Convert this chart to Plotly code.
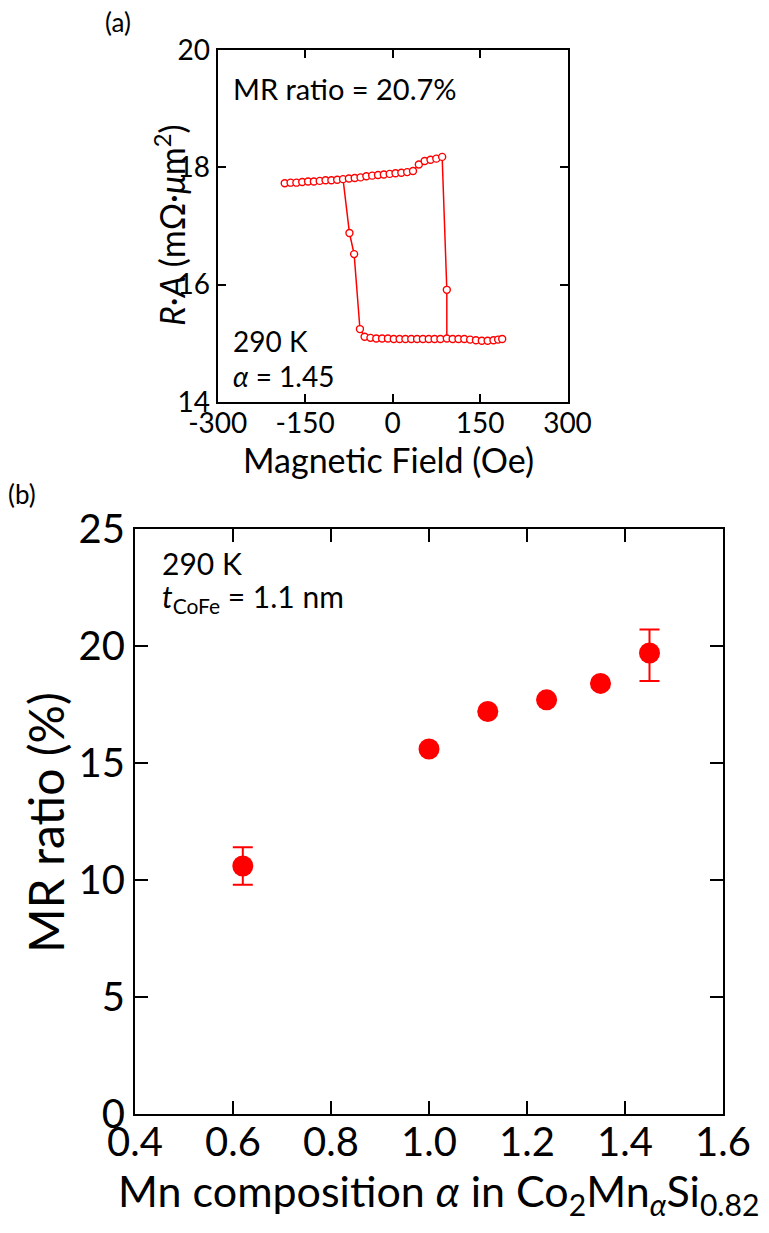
import plotly.graph_objects as go

# ---------------- Panel (a): R·A vs magnetic field ----------------
high_field = [-185, -175, -165, -155, -145, -135, -125, -115, -105, -95, -85,
              -75, -65, -55, -45, -35, -25, -15, -5, 5, 15, 25, 35, 45, 55,
              65, 75, 85]
high_ra = [17.73, 17.74, 17.74, 17.75, 17.76, 17.76, 17.77, 17.78, 17.78,
           17.79, 17.80, 17.81, 17.82, 17.83, 17.85, 17.86, 17.87, 17.88,
           17.89, 17.90, 17.91, 17.92, 17.94, 18.05, 18.11, 18.13, 18.15, 18.18]

low_field = [-48, -38, -28, -18, -8, 2, 12, 22, 32, 42, 52, 62, 72, 82, 93,
             103, 113, 123, 133, 143, 153, 163, 173, 181, 188]
low_ra = [15.11, 15.09, 15.08, 15.08, 15.08, 15.07, 15.07, 15.07, 15.07,
          15.07, 15.07, 15.07, 15.07, 15.07, 15.08, 15.07, 15.07, 15.07,
          15.06, 15.05, 15.04, 15.04, 15.05, 15.06, 15.07]

left_sw_field = [-74, -66, -56]
left_sw_ra = [16.88, 16.52, 15.24]
right_sw_field = [93]
right_sw_ra = [15.91]

# ---------------- Panel (b): MR ratio vs Mn composition ----------------
alpha = [0.62, 1.00, 1.12, 1.24, 1.35, 1.45]
mr = [10.6, 15.6, 17.2, 17.7, 18.4, 19.7]
mr_err_plus = [0.8, 0, 0, 0, 0, 1.0]
mr_err_minus = [0.8, 0, 0, 0, 0, 1.2]

a_xticks = [-300, -150, 0, 150, 300]
a_xticklabels = ["-300", "-150", "0", "150", "300"]
a_yticks = [14, 16, 18, 20]
b_xticks = [0.4, 0.6, 0.8, 1.0, 1.2, 1.4, 1.6]
b_xticklabels = ["0.4", "0.6", "0.8", "1.0", "1.2", "1.4", "1.6"]
b_yticks = [0, 5, 10, 15, 20, 25]

RED = "#ff0000"
FONT = "Lato"
W, H = 769, 1233

fig = go.Figure()

# path lines for the hysteresis loop
idx_hi = high_field.index(-85)
i93 = low_field.index(93)
path1_x = high_field + right_sw_field + [low_field[i93]]
path1_y = high_ra + right_sw_ra + [low_ra[i93]]
path2_x = [high_field[idx_hi]] + left_sw_field + low_field
path2_y = [high_ra[idx_hi]] + left_sw_ra + low_ra
for px, py in ((path1_x, path1_y), (path2_x, path2_y)):
    fig.add_trace(go.Scatter(x=px, y=py, mode="lines",
                             line=dict(color=RED, width=1.5),
                             xaxis="x", yaxis="y", showlegend=False,
                             hoverinfo="skip"))
fig.add_trace(go.Scatter(
    x=high_field + left_sw_field + right_sw_field + low_field,
    y=high_ra + left_sw_ra + right_sw_ra + low_ra,
    mode="markers",
    marker=dict(symbol="circle", size=7, color="white",
                line=dict(color=RED, width=1.4)),
    xaxis="x", yaxis="y", showlegend=False))

fig.add_trace(go.Scatter(
    x=alpha, y=mr, mode="markers",
    marker=dict(symbol="circle", size=21, color=RED),
    error_y=dict(type="data", array=mr_err_plus, arrayminus=mr_err_minus,
                 color=RED, thickness=2, width=10, symmetric=False),
    xaxis="x2", yaxis="y2", showlegend=False))

def fx(px):
    return px / W

def fy(py):
    return 1 - py / H

axis_common = dict(showline=True, linecolor="black", linewidth=2,
                   mirror="ticks", ticks="inside", tickcolor="black",
                   tickwidth=2, showgrid=False, zeroline=False,
                   automargin=False)

fig.update_layout(
    width=W, height=H,
    margin=dict(l=0, r=0, t=0, b=0, autoexpand=False),
    paper_bgcolor="white", plot_bgcolor="white",
    font=dict(family=FONT, color="black"),
    xaxis=dict(domain=[fx(217.7), fx(567.5)], range=[-300, 300],
               tickvals=a_xticks, ticktext=a_xticklabels, ticklen=8,
               tickfont=dict(size=28, family=FONT), anchor="y",
               ticklabelstandoff=-4, **axis_common),
    yaxis=dict(domain=[fy(401.7), fy(50.3)], range=[14, 20],
               tickvals=a_yticks, ticklen=8,
               tickfont=dict(size=28, family=FONT), anchor="x",
               **axis_common),
    xaxis2=dict(domain=[fx(135), fx(723)], range=[0.4, 1.6],
                tickvals=b_xticks, ticktext=b_xticklabels, ticklen=13,
                tickfont=dict(size=40, family=FONT), anchor="y2",
                ticklabelstandoff=-8, **axis_common),
    yaxis2=dict(domain=[fy(1114), fy(529)], range=[0, 25],
                tickvals=b_yticks, ticklen=13,
                tickfont=dict(size=40, family=FONT), anchor="x2",
                **axis_common),
)

def ann(text, x, y, size, xanchor="left", yanchor="middle", angle=0):
    fig.add_annotation(text=text, x=fx(x), y=fy(y), xref="paper",
                       yref="paper", showarrow=False, xanchor=xanchor,
                       yanchor=yanchor, textangle=angle,
                       font=dict(size=size, family=FONT, color="black"))

# panel (a) texts
ann("(a)", 103, 22, 26)
ann("MR ratio = 20.7%", 231, 88, 29)
ann("290 K", 231, 341, 28)
ann("<i>α</i> = 1.45", 231, 376, 28)
ann("Magnetic Field (Oe)", 389, 459, 34, xanchor="center")
ann("<i>R</i>·<i>A</i> (mΩ·<i>μ</i>m<sup>2</sup>)", 170, 225, 34,
    xanchor="center", angle=-90)

# panel (b) texts
ann("(b)", 6, 494, 26)
ann("290 K", 160, 563, 30)
ann("<i>t</i><sub>CoFe</sub> = 1.1 nm", 160, 598, 30)
ann("MR ratio (%)", 45, 823, 48, xanchor="center", angle=-90)
ann("Mn composition <i>α</i> in Co<sub>2</sub>Mn<sub><i>α</i></sub>Si<sub>0.82</sub>",
    439, 1193, 43, xanchor="center")

fig.write_html("out.html")
